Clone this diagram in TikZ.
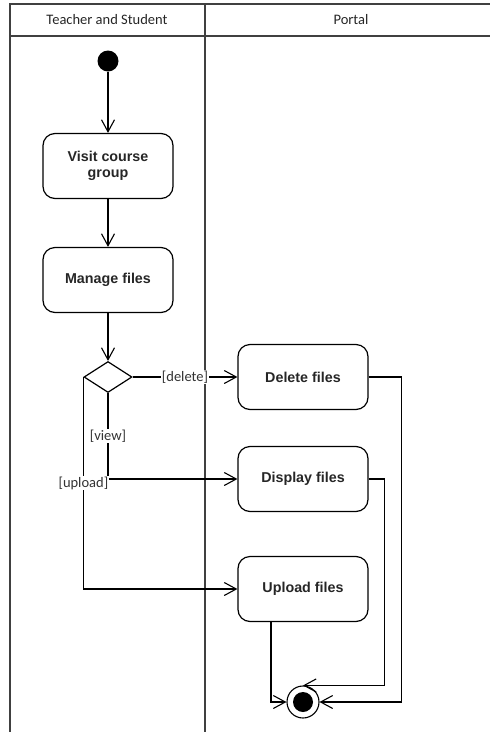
\documentclass[tikz,border=0pt]{standalone}
\usepackage{fontspec}
\setmainfont{Liberation Sans}
\newfontfamily\guardfont{Carlito}
\usetikzlibrary{arrows.meta,shapes.geometric}
\tikzset{
    lane line/.style={black!75,line width=1.6pt},
    lane title/.style={font=\guardfont\fontsize{14.5}{16}\selectfont,text=black!85},
    action/.style={draw,line width=1.2pt,rounded corners=12pt,minimum width=130pt,minimum height=65pt,align=center,font=\bfseries\fontsize{14.3}{16.5}\selectfont,text=black!85},
    decision/.style={draw,line width=1.2pt,diamond,aspect=1.5,minimum width=48pt,minimum height=31pt,inner sep=0pt},
    initial/.style={circle,fill=black,minimum size=21pt,inner sep=0pt},
    final/.style={circle,draw,line width=1.1pt,minimum size=32pt,inner sep=0pt,
        path picture={\fill (path picture bounding box.center) circle (10pt);}},
    flow/.style={-{Straight Barb[length=12pt,width=13pt]},line width=1.1pt},
    guard/.style={fill=white,inner sep=1pt,font=\guardfont\fontsize{14.5}{16}\selectfont,text=black!80},
}
\begin{document}
\begin{tikzpicture}[x=1pt,y=-1pt]
    \useasboundingbox (0,0) rectangle (490,732);

    % swimlanes
    \draw[lane line] (10,732) -- (10,4) -- (492,4) (10,36) -- (492,36)
        (205,4) -- (205,732);
    \node[lane title] (laneA) at (107,20) {Teacher and Student};
    \node[lane title] (laneB) at (351,20) {Portal};

    % actions
    \node[initial] (start) at (108,61) {};
    \node[action] (visit) at (108,166) {Visit course\\group};
    \node[action] (manage) at (108,280) {Manage files};
    \node[decision] (choice) at (108,377) {};
    \node[action] (del) at (303,377) {Delete files};
    \node[action] (disp) at (303,479) {Display files};
    \node[action] (upl) at (303,589) {Upload files};
    \node[final] (stop) at (303,702) {};

    % flows
    \draw[flow] (start) -- (visit);
    \draw[flow] (visit) -- (manage);
    \draw[flow] (manage) -- (choice);
    \draw[flow] (choice.east) -- node[guard] {[delete]} (del.west);
    \draw[flow] (choice.south) |- node[guard,pos=.25] {[view]} (disp.west);
    \draw[flow] (choice.west) |- node[guard,pos=.25] {[upload]} (upl.west);
    \draw[flow] (del.east) -- ++(33,0) |- (stop.east);
    \draw[flow] (disp.east) -- ++(16,0) |- (stop.north);
    \draw[flow] ([xshift=-32pt]upl.south) |- (stop.west);
\end{tikzpicture}
\end{document}
